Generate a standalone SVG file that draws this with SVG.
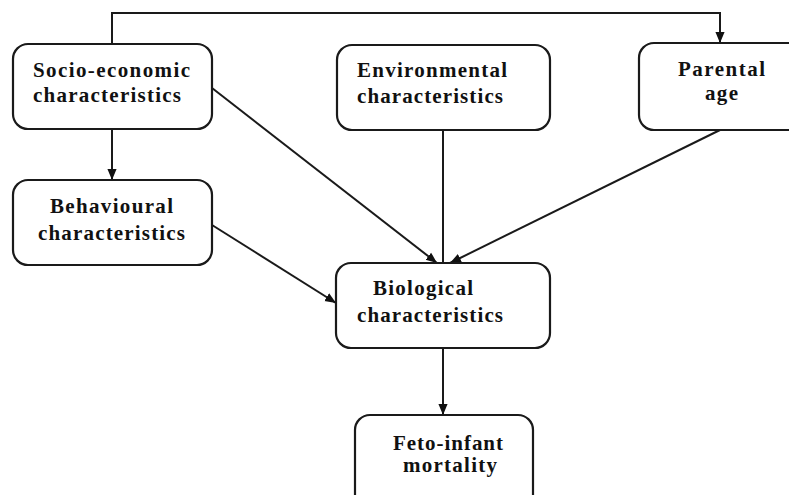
<svg xmlns="http://www.w3.org/2000/svg" width="789" height="495" viewBox="0 0 789 495">
<style>
.box{fill:#fff;stroke:#1a1a1a;stroke-width:2.2}
.t{font-family:'Liberation Serif','DejaVu Serif','Times New Roman',serif;font-weight:bold;font-size:21px;fill:#111}
.c{fill:none;stroke:#1a1a1a;stroke-width:2}
</style>
<defs>
<marker id="ah" markerUnits="userSpaceOnUse" markerWidth="11" markerHeight="11" viewBox="0 0 12 12" refX="12" refY="6" orient="auto">
<path d="M0,1 L12,6 L0,11 Z" fill="#111"/>
</marker>
</defs>
<rect width="789" height="495" fill="#fff"/>
<g id="connectors">
<polyline class="c" points="112,44 112,13 720,13 720,43" marker-end="url(#ah)"/>
<line class="c" x1="112" y1="129" x2="112" y2="180" marker-end="url(#ah)"/>
<line class="c" x1="212" y1="88" x2="437" y2="263" marker-end="url(#ah)"/>
<line class="c" x1="443" y1="130" x2="443" y2="263"/>
<line class="c" x1="720" y1="130" x2="450" y2="263" marker-end="url(#ah)"/>
<line class="c" x1="212" y1="225" x2="336" y2="303" marker-end="url(#ah)"/>
<line class="c" x1="443" y1="348" x2="443" y2="415" marker-end="url(#ah)"/>
</g>
<g id="socio">
<rect class="box" x="13" y="44" width="199" height="85" rx="15"/>
<text class="t" x="33" y="77" textLength="157" lengthAdjust="spacing">Socio-economic</text>
<text class="t" x="33" y="102" textLength="148" lengthAdjust="spacing">characteristics</text>
</g>
<g id="environmental">
<rect class="box" x="337" y="45" width="213" height="85" rx="15"/>
<text class="t" x="357" y="77" textLength="150" lengthAdjust="spacing">Environmental</text>
<text class="t" x="357" y="103" textLength="146" lengthAdjust="spacing">characteristics</text>
</g>
<g id="parental">
<rect class="box" x="639" y="43" width="170" height="87" rx="15"/>
<text class="t" x="678" y="76" textLength="87" lengthAdjust="spacing">Parental</text>
<text class="t" x="705" y="100" textLength="33" lengthAdjust="spacing">age</text>
</g>
<g id="behavioural">
<rect class="box" x="13" y="180" width="199" height="85" rx="15"/>
<text class="t" x="50" y="213" textLength="123" lengthAdjust="spacing">Behavioural</text>
<text class="t" x="38" y="240" textLength="147" lengthAdjust="spacing">characteristics</text>
</g>
<g id="biological">
<rect class="box" x="336" y="263" width="214" height="85" rx="15"/>
<text class="t" x="373" y="295" textLength="100" lengthAdjust="spacing">Biological</text>
<text class="t" x="357" y="322" textLength="146" lengthAdjust="spacing">characteristics</text>
</g>
<g id="feto">
<rect class="box" x="355" y="415" width="178" height="100" rx="15"/>
<text class="t" x="393" y="450" textLength="110" lengthAdjust="spacing">Feto-infant</text>
<text class="t" x="403" y="472" textLength="94" lengthAdjust="spacing">mortality</text>
</g>
</svg>
